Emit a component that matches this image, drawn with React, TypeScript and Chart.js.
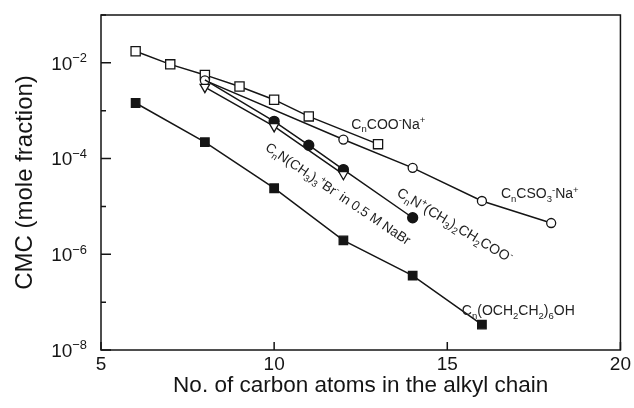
import React, { useEffect, useRef } from 'react';
import { Chart, registerables } from 'chart.js';

Chart.register(...registerables);

// ---- data ----
const cooN = [6, 7, 8, 9, 10, 11, 13];
const cooCMC = [1.75e-2, 9.3e-3, 5.6e-3, 3.2e-3, 1.7e-3, 7.6e-4, 2.0e-4];

const so3N = [8, 12, 14, 16, 18];
const so3CMC = [4.3e-3, 2.5e-4, 6.4e-5, 1.3e-5, 4.5e-6];

const betN = [8, 10, 11, 12, 14];
const betCMC = [4.4e-3, 6.0e-4, 1.9e-4, 5.9e-5, 5.8e-6];

const ctabN = [8, 10, 12];
const ctabCMC = [3.1e-3, 4.7e-4, 4.7e-5];

const c6N = [6, 8, 10, 12, 14, 16];
const c6CMC = [1.45e-3, 2.2e-4, 2.4e-5, 1.95e-6, 3.6e-7, 3.4e-8];

const xTicks = [5, 10, 15, 20];
const yMajorTicks = [1e-8, 1e-6, 1e-4, 1e-2];
const yMinorTicks = [1e-7, 1e-5, 1e-3, 1e-1];

const noteText = [
  'C_{n}COO^{-}Na^{+}',
  'C_{n}CSO_{3}^{-}Na^{+}',
  'C_{n}N(CH_{3})_{3}^{+}Br^{-} in 0.5 M NaBr',
  'C_{n}N^{+}(CH_{3})_{2}CH_{2}COO^{-}',
  'C_{n}(OCH_{2}CH_{2})_{6}OH',
];
const noteN = [12.23, 16.55, 9.72, 13.52, 15.42];
const noteCMC = [Math.pow(10, -3.376), Math.pow(10, -4.83), Math.pow(10, -3.81), Math.pow(10, -4.766), Math.pow(10, -7.276)];
const noteAngle = [0, 0, 34, 31, 0];

const FONT = '"Liberation Sans", Arial, Helvetica, sans-serif';
const INK = '#151515';

const pts = (xs: number[], ys: number[]) => xs.map((x, i) => ({ x, y: ys[i] }));

type Seg = { t: string; k: 'n' | 'sub' | 'sup' };
function parseRich(s: string): Seg[] {
  const out: Seg[] = [];
  let i = 0;
  let buf = '';
  while (i < s.length) {
    const c = s[i];
    if ((c === '_' || c === '^') && s[i + 1] === '{') {
      if (buf) { out.push({ t: buf, k: 'n' }); buf = ''; }
      const end = s.indexOf('}', i);
      out.push({ t: s.slice(i + 2, end), k: c === '_' ? 'sub' : 'sup' });
      i = end + 1;
    } else { buf += c; i++; }
  }
  if (buf) out.push({ t: buf, k: 'n' });
  return out;
}

function richWidth(ctx: CanvasRenderingContext2D, segs: Seg[], size: number) {
  let w = 0;
  for (const sg of segs) {
    ctx.font = `${sg.k === 'n' ? size : size * 0.68}px ${FONT}`;
    w += ctx.measureText(sg.t).width;
  }
  return w;
}

function drawRich(ctx: CanvasRenderingContext2D, segs: Seg[], x: number, y: number, size: number) {
  let cx = x;
  ctx.textBaseline = 'alphabetic';
  ctx.textAlign = 'left';
  for (const sg of segs) {
    const fs = sg.k === 'n' ? size : size * 0.68;
    ctx.font = `${fs}px ${FONT}`;
    const dy = sg.k === 'sub' ? size * 0.25 : sg.k === 'sup' ? -size * 0.4 : 0;
    ctx.fillText(sg.t, cx, y + dy);
    cx += ctx.measureText(sg.t).width;
  }
}

const decorPlugin = {
  id: 'decor',
  afterDraw(chart: any) {
    const ctx: CanvasRenderingContext2D = chart.ctx;
    const { left, right, top, bottom } = chart.chartArea;
    const xs = chart.scales.x;
    const ys = chart.scales.y;
    ctx.save();
    ctx.strokeStyle = INK;
    ctx.fillStyle = INK;
    // frame
    ctx.lineWidth = 1.5;
    ctx.strokeRect(left, top, right - left, bottom - top);
    // inward ticks
    ctx.beginPath();
    for (const v of yMajorTicks) {
      const py = ys.getPixelForValue(v);
      ctx.moveTo(left, py); ctx.lineTo(left + 10, py);
    }
    for (const v of yMinorTicks) {
      const py = ys.getPixelForValue(v);
      ctx.moveTo(left, py); ctx.lineTo(left + 5, py);
    }
    for (const v of xTicks) {
      const px = xs.getPixelForValue(v);
      ctx.moveTo(px, bottom); ctx.lineTo(px, bottom - 8);
    }
    ctx.stroke();
    // y tick labels 10^n
    const fs = 19;
    for (const v of yMajorTicks) {
      const py = ys.getPixelForValue(v);
      const segs = parseRich(`10^{${Math.round(Math.log10(v)).toString().replace('-', '\u2212')}}`);
      const w = richWidth(ctx, segs, fs);
      drawRich(ctx, segs, left - 14 - w, py + fs * 0.36, fs);
    }
    // annotations
    for (let i = 0; i < noteText.length; i++) {
      const px = xs.getPixelForValue(noteN[i]);
      const py = ys.getPixelForValue(noteCMC[i]);
      ctx.save();
      ctx.translate(px, py);
      ctx.rotate((noteAngle[i] * Math.PI) / 180);
      ctx.fillStyle = '#222';
      drawRich(ctx, parseRich(noteText[i]), 0, 0, i === 2 ? 13.5 : 14);
      ctx.restore();
    }
    ctx.restore();
  },
};

export default function App() {
  const ref = useRef<HTMLCanvasElement | null>(null);
  useEffect(() => {
    if (!ref.current) return;
    const common = { showLine: true, borderColor: INK, borderWidth: 1.5, tension: 0, pointBorderColor: INK, pointBorderWidth: 1.3 };
    const chart = new Chart(ref.current, {
      type: 'scatter',
      data: {
        datasets: [
          { ...common, label: 'Cn(OCH2CH2)6OH', data: pts(c6N, c6CMC), pointStyle: 'rect', pointRadius: 6, backgroundColor: INK, pointBackgroundColor: INK },
          { ...common, label: 'CnN(CH3)3Br in 0.5 M NaBr', data: pts(ctabN, ctabCMC), pointStyle: 'triangle', pointRotation: 180, pointRadius: 5.5, pointBackgroundColor: '#fff' },
          { ...common, label: 'CnN+(CH3)2CH2COO-', data: pts(betN, betCMC), pointStyle: 'circle', pointRadius: betN.map((n) => (n === 8 ? 0 : 5)), pointBackgroundColor: INK },
          { ...common, label: 'CnCSO3-Na+', data: pts(so3N, so3CMC), pointStyle: 'circle', pointRadius: 4.5, pointBackgroundColor: '#fff' },
          { ...common, label: 'CnCOO-Na+', data: pts(cooN, cooCMC), pointStyle: 'rect', pointRadius: 6.5, pointBackgroundColor: '#fff' },
        ] as any,
      },
      options: {
        animation: false,
        responsive: true,
        maintainAspectRatio: false,
        layout: { padding: { top: 15, right: 12, left: 0, bottom: 0 } },
        plugins: { legend: { display: false }, tooltip: { enabled: false } },
        scales: {
          x: {
            type: 'linear',
            min: 5,
            max: 20,
            afterBuildTicks: (s: any) => { s.ticks = xTicks.map((v) => ({ value: v })); },
            ticks: { font: { size: 19, family: FONT }, color: INK, padding: 3, maxRotation: 0, autoSkip: false },
            grid: { display: false, drawTicks: false },
            border: { display: false },
            title: { display: true, text: 'No. of carbon atoms in the alkyl chain', font: { size: 22.5, family: FONT }, color: INK, padding: { top: 0, bottom: 9 } },
            afterFit: (s: any) => { s.height = 58; },
          },
          y: {
            type: 'logarithmic',
            min: 1e-8,
            max: 1e-1,
            ticks: { display: false },
            grid: { display: false },
            border: { display: false },
            title: { display: true, text: 'CMC (mole fraction)', font: { size: 24, family: FONT }, color: INK, padding: { top: 11, bottom: 0 } },
            afterFit: (s: any) => { s.width = 101; },
          },
        },
      } as any,
      plugins: [decorPlugin],
    });
    return () => chart.destroy();
  }, []);
  return (
    <div style={{ position: 'absolute', left: 0, top: 0, width: 634, height: 408, background: '#fff' }}>
      <canvas ref={ref} />
    </div>
  );
}
